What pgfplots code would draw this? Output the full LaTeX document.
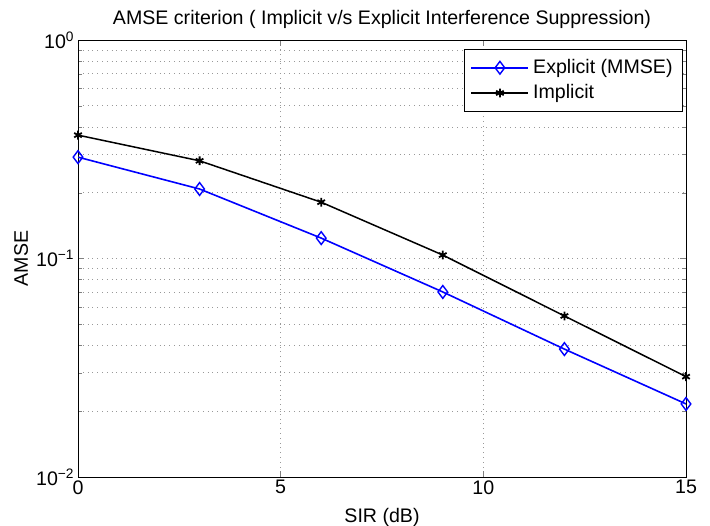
\documentclass[border=0pt]{standalone}
\usepackage{fontspec}
\setmainfont{Liberation Sans}
\usepackage{pgfplots}
\pgfplotsset{compat=1.18}
\begin{document}
\begin{tikzpicture}
\begin{axis}[
  at={(0,0)}, anchor=south west,
  scale only axis, width=304pt, height=218.5pt,
  xmin=0, xmax=15, ymin=0.01, ymax=1,
  ymode=log, log basis y=10,
  xtick={0,5,10,15},
  ytick={0.01,0.1,1},
  minor ytick={0.02,0.03,0.04,0.05,0.06,0.07,0.08,0.09,0.2,0.3,0.4,0.5,0.6,0.7,0.8,0.9},
  yticklabels={10\textsuperscript{−2},10\textsuperscript{−1},10\textsuperscript{0}},
  /pgf/number format/assume math mode=true,
  tick label style={font=\fontsize{9.8}{11}\selectfont},
  label style={font=\fontsize{9.8}{11}\selectfont},
  title style={font=\fontsize{9.8}{11}\selectfont, yshift=-4pt},
  title={AMSE criterion ( Implicit v/s Explicit Interference Suppression)},
  xlabel={SIR (dB)}, ylabel={AMSE},
  xlabel style={yshift=-2pt}, ylabel style={yshift=-1pt},
  tick align=inside, ticklabel style={inner sep=1.5pt},
  major tick length=3pt, minor tick length=2pt,
  grid=both,
  major grid style={dotted, gray!80, line width=0.4pt},
  minor grid style={dotted, gray!80, line width=0.4pt},
  axis line style={line width=0.5pt},
  legend style={at={(0.995,0.98)}, anchor=north east, font=\fontsize{9.8}{11}\selectfont, draw=black, inner sep=3pt, row sep=0pt},
  legend cell align=left,
  legend image code/.code={\draw[mark repeat=2,mark phase=2,#1] plot coordinates {(0cm,0cm) (0.5cm,0cm) (1cm,0cm)};},
]
\addplot[blue, line width=0.8pt, mark=diamond, mark size=3.2pt, mark options={solid, line width=0.7pt}]
  coordinates {(0,0.291) (3,0.208) (6,0.124) (9,0.0703) (12,0.0385) (15,0.0216)};
\addlegendentry{Explicit (MMSE)}
\addplot[black, line width=0.75pt, mark=asterisk, mark size=2.2pt, mark options={solid, line width=0.9pt}]
  coordinates {(0,0.367) (3,0.280) (6,0.181) (9,0.1037) (12,0.0546) (15,0.0288)};
\addlegendentry{Implicit}
\end{axis}
\pgfresetboundingbox
\path (-39pt,-24pt) rectangle (316pt,238.5pt);
\end{tikzpicture}
\end{document}
